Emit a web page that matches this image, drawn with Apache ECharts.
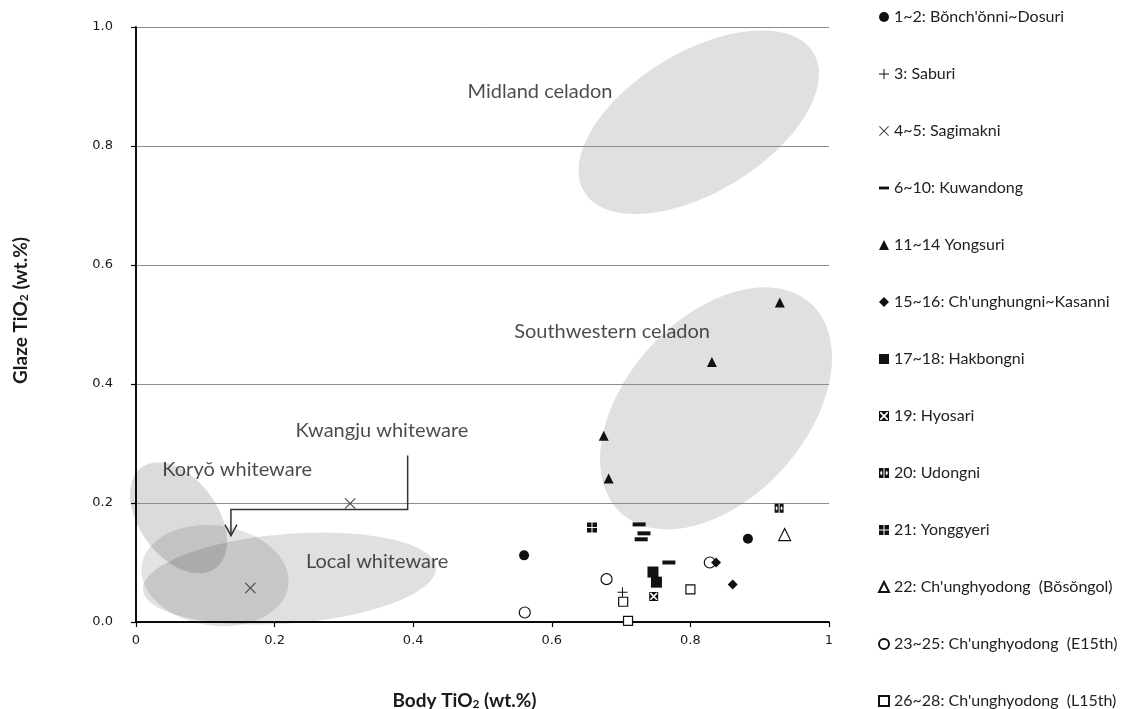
<!DOCTYPE html>
<html>
<head>
<meta charset="utf-8">
<script src="https://cdn.jsdelivr.net/npm/echarts@6/dist/echarts.min.js"></script>
<style>
  html, body { margin: 0; padding: 0; background: #fff; }
  #chart { width: 1126px; height: 709px; }
</style>
</head>
<body>
<div id="chart"></div>
<script>
// Body TiO2 vs glaze TiO2 (wt.%) of sherds by kiln site, values as [body, glaze]
const bonchonni  = [[0.560, 0.112], [0.883, 0.140]];
const saburi     = [[0.702, 0.050]];
const sagimakni  = [[0.309, 0.199], [0.165, 0.057]];
const kuwandong  = [[0.726, 0.164], [0.733, 0.149], [0.729, 0.139], [0.769, 0.100]];
const yongsuri   = [[0.929, 0.537], [0.831, 0.437], [0.675, 0.313], [0.682, 0.241]];
const chunghungni = [[0.837, 0.100], [0.861, 0.063]];
const hakbongni  = [[0.746, 0.084], [0.751, 0.067]];
const hyosari    = [[0.747, 0.043]];
const udongni    = [[0.928, 0.191]];
const yonggyeri  = [[0.658, 0.159]];
const bosongol   = [[0.936, 0.147]];
const chunghyoE15 = [[0.561, 0.016], [0.679, 0.072], [0.828, 0.100]];
const chunghyoL15 = [[0.703, 0.034], [0.800, 0.055], [0.710, 0.002]];

const groupNames = [
  "1~2: Bŏnch'ŏnni~Dosuri",
  "3: Saburi",
  "4~5: Sagimakni",
  "6~10: Kuwandong",
  "11~14 Yongsuri",
  "15~16: Ch'unghungni~Kasanni",
  "17~18: Hakbongni",
  "19: Hyosari",
  "20: Udongni",
  "21: Yonggyeri",
  "22: Ch'unghyodong  (Bŏsŏngol)",
  "23~25: Ch'unghyodong  (E15th)",
  "26~28: Ch'unghyodong  (L15th)"
];

// Compositional fields: [centre body, centre glaze, semi-major, semi-minor (body units), tilt deg]
const fieldLocal    = [0.2215, 0.073, 0.212, 0.0645, 4.4];
const fieldKwangju  = [0.114, 0.078, 0.1068, 0.0722, -8];
const fieldKoryo    = [0.0613, 0.175, 0.0902, 0.0563, -53.9];
const fieldMidland  = [0.812, 0.840, 0.1935, 0.1010, 31.3];
const fieldSouthwest = [0.837, 0.359, 0.204, 0.130, 47.9];
const fields = [fieldLocal, fieldKwangju, fieldKoryo, fieldMidland, fieldSouthwest];
const fieldFills = ['rgba(0,0,0,0.12)', 'rgba(0,0,0,0.11)', 'rgba(0,0,0,0.14)', 'rgba(0,0,0,0.12)', 'rgba(0,0,0,0.12)'];

const fieldLabels = ['Midland celadon', 'Southwestern celadon', 'Kwangju whiteware', 'Koryŏ whiteware', 'Local whiteware'];
const fieldLabelAt = [[0.583, 0.892], [0.687, 0.488], [0.355, 0.322], [0.146, 0.256], [0.348, 0.102]];

// Leader from the Kwangju label down to its field
const kwangjuLeader = [[0.392, 0.280], [0.392, 0.189], [0.137, 0.189], [0.137, 0.145]];

const xTickLabels = ['0', '0.2', '0.4', '0.6', '0.8', '1'];
const yTickLabels = ['0.0', '0.2', '0.4', '0.6', '0.8', '1.0'];

// Marker shapes
const plusPath  = 'path://M9,0h2v9h9v2h-9v9h-2v-9h-9v-2h9z';
const crossPath = 'path://M0,1.4L1.4,0L20,18.6L18.6,20Z M18.6,0L20,1.4L1.4,20L0,18.6Z';
const dashPath  = 'path://M0,0h14v4h-14z';
const quadPath  = 'path://M0,0h4.5v4.5h-4.5z M5.5,0h4.5v4.5h-4.5z M0,5.5h4.5v4.5h-4.5z M5.5,5.5h4.5v4.5h-4.5z';
const boxXPath  = 'path://M0,0H20V20H0Z M2,2V18H18V2Z M4.5,2L15.5,2L10,7.5Z M18,4.5L18,15.5L12.5,10Z M15.5,18L4.5,18L10,12.5Z M2,15.5L2,4.5L7.5,10Z';
const twinPath  = 'path://M0,0H9V20H0Z M4.5,5L2,10L4.5,15L7,10Z M11,0H20V20H11Z M15.5,5L13,10L15.5,15L18,10Z';

const black = '#111';
function pointSeries(name, data, symbol, size, style, z) {
  return {
    type: 'scatter', name: name, data: data, symbol: symbol, symbolSize: size,
    itemStyle: Object.assign({ color: black, opacity: 1 }, style || {}),
    z: z || 5
  };
}
const openStyle = { color: '#fff', borderColor: black, borderWidth: 1.2 };

const series = [
  {
    type: 'custom', name: 'fields', z: -1, silent: true,
    data: fields,
    renderItem: function (params, api) {
      const f = fields[params.dataIndex];
      const c = api.coord([f[0], f[1]]);
      const s = api.size([1, 0])[0];
      const th = f[4] * Math.PI / 180;
      const pts = [];
      for (let i = 0; i < 120; i++) {
        const t = i / 120 * Math.PI * 2;
        const x = f[2] * Math.cos(t), y = f[3] * Math.sin(t);
        pts.push([c[0] + (x * Math.cos(th) - y * Math.sin(th)) * s,
                  c[1] - (x * Math.sin(th) + y * Math.cos(th)) * s]);
      }
      return { type: 'polygon', shape: { points: pts }, style: { fill: fieldFills[params.dataIndex], stroke: null } };
    }
  },
  {
    type: 'custom', name: 'leader', z: 4, silent: true,
    data: [kwangjuLeader[0]],
    renderItem: function (params, api) {
      const pts = kwangjuLeader.map(p => api.coord(p));
      const tip = pts[pts.length - 1];
      return {
        type: 'group',
        children: [
          { type: 'polyline', shape: { points: pts }, style: { stroke: '#333', lineWidth: 1.5, fill: null } },
          { type: 'polyline', shape: { points: [[tip[0] - 6, tip[1] - 11], tip, [tip[0] + 6, tip[1] - 11]] },
            style: { stroke: '#333', lineWidth: 1.5, fill: null } }
        ]
      };
    }
  },
  {
    type: 'scatter', name: 'fieldNames', symbolSize: 0, silent: true, z: 6,
    data: fieldLabels.map((n, i) => ({ name: n, value: fieldLabelAt[i] })),
    label: {
      show: true, position: 'inside', formatter: '{b}',
      fontFamily: 'Lato', fontSize: 20, color: '#1e1e1e'
    }
  },
  pointSeries(groupNames[0], bonchonni, 'circle', 10),
  pointSeries(groupNames[1], saburi, plusPath, 10),
  pointSeries(groupNames[2], sagimakni, crossPath, 11, { color: '#444' }),
  pointSeries(groupNames[3], kuwandong, dashPath, [13, 4]),
  pointSeries(groupNames[4], yongsuri, 'triangle', 10),
  pointSeries(groupNames[5], chunghungni, 'diamond', 10, null, 6),
  pointSeries(groupNames[6], hakbongni, 'rect', 11),
  pointSeries(groupNames[7], hyosari, boxXPath, 9),
  pointSeries(groupNames[8], udongni, twinPath, 9),
  pointSeries(groupNames[9], yonggyeri, quadPath, 10),
  pointSeries(groupNames[10], bosongol, 'triangle', 12, openStyle),
  pointSeries(groupNames[11], chunghyoE15, 'circle', 11, openStyle, 4),
  pointSeries(groupNames[12], chunghyoL15, 'rect', 9, openStyle)
];

const axisFont = { fontFamily: 'DejaVu Sans', fontSize: 13, color: '#1a1a1a' };
const nameRich = {
  t:   { fontFamily: 'Lato', fontWeight: 'bold', fontSize: 19, color: '#1a1a1a' },
  sub: { fontFamily: 'Lato', fontWeight: 'bold', fontSize: 12, color: '#1a1a1a', verticalAlign: 'bottom', padding: [7, 0, 0, 0] }
};

const option = {
  backgroundColor: '#fff',
  animation: false,
  grid: { left: 136, top: 27, width: 693, height: 595, outerBoundsMode: 'none', containLabel: false },
  legend: {
    orient: 'vertical', left: 873, top: 4, height: 705,
    itemWidth: 10, itemHeight: 10, itemGap: 41,
    selectedMode: false,
    data: groupNames,
    textStyle: { fontFamily: 'Lato', fontSize: 16, color: '#222' }
  },
  xAxis: [{
    type: 'value', min: 0, max: 1, interval: 0.2,
    name: '{t|Body TiO}{sub|2}{t| (wt.%)}',
    nameLocation: 'middle', nameGap: 69,
    nameTextStyle: { rich: nameRich, padding: [0, 36, 0, 0] },
    axisLine: { show: true, onZero: false, lineStyle: { color: '#000', width: 1.5 } },
    axisTick: { show: true, length: 5, lineStyle: { color: '#000', width: 1.2 } },
    axisLabel: Object.assign({ margin: 12, formatter: v => xTickLabels[Math.round(v / 0.2)] }, axisFont),
    splitLine: { show: false }
  }, {
    type: 'value', min: 0, max: 1, position: 'top',
    axisLine: { show: true, lineStyle: { color: '#000', width: 1.5 } },
    axisTick: { show: false }, axisLabel: { show: false }, splitLine: { show: false }
  }],
  yAxis: [{
    type: 'value', min: 0, max: 1, interval: 0.2,
    name: '{t|Glaze TiO}{sub|2}{t| (wt.%)}',
    nameLocation: 'middle', nameGap: 106, nameRotate: 90,
    nameTextStyle: { rich: nameRich, padding: [0, 0, 0, 28] },
    axisLine: { show: true, onZero: false, lineStyle: { color: '#000', width: 1.5 } },
    axisTick: { show: true, length: 5, lineStyle: { color: '#000', width: 1.2 } },
    axisLabel: Object.assign({ margin: 23, formatter: v => yTickLabels[Math.round(v / 0.2)] }, axisFont),
    splitLine: { show: true, lineStyle: { color: '#8c8c8c', width: 1 } }
  }, {
    type: 'value', min: 0, max: 1, position: 'right',
    axisLine: { show: true, lineStyle: { color: '#000', width: 1.5 } },
    axisTick: { show: false }, axisLabel: { show: false }, splitLine: { show: false }
  }],
  series: series
};

const chart = echarts.init(document.getElementById('chart'), null, { renderer: 'canvas' });
chart.setOption(option);
</script>
</body>
</html>
